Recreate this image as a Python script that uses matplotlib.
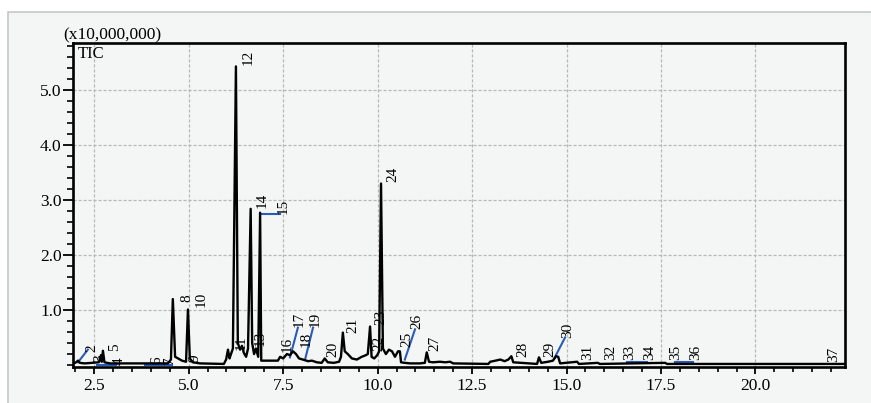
import matplotlib
matplotlib.use("Agg")
import matplotlib.pyplot as plt
from matplotlib.patches import Rectangle
from matplotlib.ticker import MultipleLocator, FormatStrFormatter

plt.rcParams['font.family'] = ['Liberation Serif', 'DejaVu Serif']

# TIC trace: retention time (min), intensity (x10,000,000)
rt = [1.93, 2.02, 2.07, 2.12, 2.25, 2.62, 2.68, 2.70, 2.73, 2.77, 2.92,
      4.45, 4.53, 4.58, 4.64, 4.72, 4.82, 4.93, 4.98, 5.03, 5.11, 5.30,
      5.93, 5.99, 6.04, 6.08, 6.12, 6.17, 6.25, 6.30, 6.36, 6.41, 6.46,
      6.52, 6.57, 6.64, 6.68, 6.73, 6.78, 6.84, 6.89, 6.92, 7.36, 7.42,
      7.50, 7.60, 7.68, 7.76, 7.84, 7.92, 8.02, 8.16, 8.26, 8.39, 8.52,
      8.60, 8.68, 8.84, 8.98, 9.03, 9.08, 9.13, 9.21, 9.32, 9.45, 9.58,
      9.69, 9.74, 9.80, 9.84, 9.91, 9.99, 10.04, 10.09, 10.14, 10.22,
      10.30, 10.38, 10.46, 10.54, 10.59, 10.62, 10.72, 10.86, 11.12,
      11.25, 11.30, 11.36, 11.46, 11.65, 11.79, 11.92, 12.00, 12.93,
      12.98, 13.12, 13.25, 13.36, 13.46, 13.54, 13.59, 14.22, 14.27,
      14.33, 14.51, 14.64, 14.72, 14.78, 14.83, 15.28, 15.33, 15.83,
      15.88, 17.61, 17.66, 22.37]
tic = [0.02, 0.05, 0.08, 0.04, 0.03, 0.05, 0.18, 0.06, 0.26, 0.05, 0.03,
       0.03, 0.10, 1.20, 0.15, 0.12, 0.08, 0.06, 1.01, 0.12, 0.05, 0.03,
       0.02, 0.10, 0.28, 0.12, 0.20, 0.30, 5.43, 0.40, 0.28, 0.35, 0.22,
       0.15, 0.30, 2.84, 0.40, 0.20, 0.30, 0.15, 2.77, 0.08, 0.08, 0.15,
       0.12, 0.20, 0.18, 0.25, 0.20, 0.12, 0.10, 0.07, 0.08, 0.05, 0.04,
       0.12, 0.05, 0.04, 0.06, 0.15, 0.59, 0.25, 0.20, 0.12, 0.10, 0.15,
       0.18, 0.20, 0.70, 0.15, 0.12, 0.18, 0.25, 3.30, 0.30, 0.20,
       0.28, 0.25, 0.15, 0.25, 0.25, 0.05, 0.04, 0.03, 0.03,
       0.04, 0.23, 0.06, 0.05, 0.06, 0.05, 0.06, 0.03, 0.02,
       0.06, 0.08, 0.10, 0.07, 0.10, 0.16, 0.05, 0.02, 0.14,
       0.04, 0.06, 0.08, 0.16, 0.15, 0.03, 0.06, 0.02, 0.04,
       0.02, 0.04, 0.02, 0.02]

# peak numbers and where their labels sit
peak_ids = [str(i) for i in range(2, 38)]
label_rt = [2.44, 2.65, 3.15, 3.05, 4.16, 4.50, 4.95, 5.17, 5.33, 6.39,
            6.57, 6.89, 6.94, 7.50, 7.60, 7.92, 8.11, 8.34, 8.82, 9.35,
            10.04, 10.09, 10.41, 10.78, 11.04, 11.52, 13.85, 14.57, 15.02,
            15.57, 16.16, 16.66, 17.21, 17.90, 18.43, 22.06]
label_y = [0.23, 0.05, 0.00, 0.25, 0.01, 0.01, 1.15, 0.05, 1.05, 0.28,
           5.45, 0.35, 2.85, 2.75, 0.23, 0.70, 0.32, 0.70, 0.14, 0.59,
           0.25, 0.72, 3.32, 0.32, 0.65, 0.25, 0.14, 0.14, 0.50,
           0.10, 0.10, 0.10, 0.10, 0.10, 0.10, 0.05]

# blue leader / integration marks: (rt0, y0, rt1, y1)
leaders = [(2.07, 0.05, 2.33, 0.28),
           (2.57, 0.01, 3.07, 0.01),
           (3.84, 0.01, 4.56, 0.01),
           (6.89, 2.75, 7.42, 2.75),
           (7.68, 0.14, 7.89, 0.68),
           (8.08, 0.10, 8.29, 0.68),
           (10.72, 0.10, 10.99, 0.65),
           (14.69, 0.14, 14.96, 0.50),
           (16.60, 0.05, 17.13, 0.05),
           (17.87, 0.05, 18.35, 0.05)]

fig = plt.figure(figsize=(8.71, 4.03), dpi=100)
fig.patch.set_facecolor('white')
fig.patches.append(Rectangle((8 / 871, -0.05), 1, 1.05 - 12 / 403, transform=fig.transFigure,
                             facecolor='#f4f5f5', edgecolor='#c8c8c8', lw=1.2, zorder=-10))

ax = fig.add_axes([72.7 / 871, 36.3 / 403, 772.3 / 871, 323.4 / 403])
ax.set_facecolor('#f4f5f5')

for x0, y0, x1, y1 in leaders:
    ax.plot([x0, x1], [y0, y1], color='#2a5bb8', lw=1.5, zorder=3)
ax.plot(rt, tic, color='black', lw=1.7, zorder=4)

for name, x, y in zip(peak_ids, label_rt, label_y):
    ax.text(x, y, name, rotation=90, ha='center', va='bottom', fontsize=11, zorder=5)

ax.xaxis.set_major_locator(MultipleLocator(2.5))
ax.xaxis.set_minor_locator(MultipleLocator(0.5))
ax.yaxis.set_minor_locator(MultipleLocator(0.2))
ax.xaxis.set_major_formatter(FormatStrFormatter('%.1f'))
ax.yaxis.set_major_formatter(FormatStrFormatter('%.1f'))
ax.set_xticks([2.5, 5.0, 7.5, 10.0, 12.5, 15.0, 17.5, 20.0])
ax.set_yticks([1.0, 2.0, 3.0, 4.0, 5.0])
ax.set_xlim(1.93, 22.37)
ax.set_ylim(-0.03, 5.85)

ax.tick_params(axis='both', which='major', labelsize=12.5, width=1.3, color='black')
ax.tick_params(axis='both', which='minor', color='black')
ax.tick_params(axis='x', which='major', length=5, pad=3)
ax.tick_params(axis='x', which='minor', length=3.5, width=1.2)
ax.tick_params(axis='y', which='major', length=7, pad=1)
ax.tick_params(axis='y', which='minor', length=4.5, width=1.2)

ax.grid(True, which='major', color='#b8b8b8', linestyle=(0, (2.5, 1.5)), lw=0.9)
ax.set_axisbelow(True)
for side in ['left', 'bottom', 'top', 'right']:
    ax.spines[side].set_linewidth(1.9)
    ax.spines[side].set_color('black')

ax.text(-0.0126, 1.0, '(x10,000,000)', transform=ax.transAxes, ha='left', va='bottom',
        fontsize=12.5)
ax.text(0.006, 0.992, 'TIC', transform=ax.transAxes, ha='left', va='top', fontsize=12)

fig.savefig('out.png', dpi=100, facecolor=fig.get_facecolor())
